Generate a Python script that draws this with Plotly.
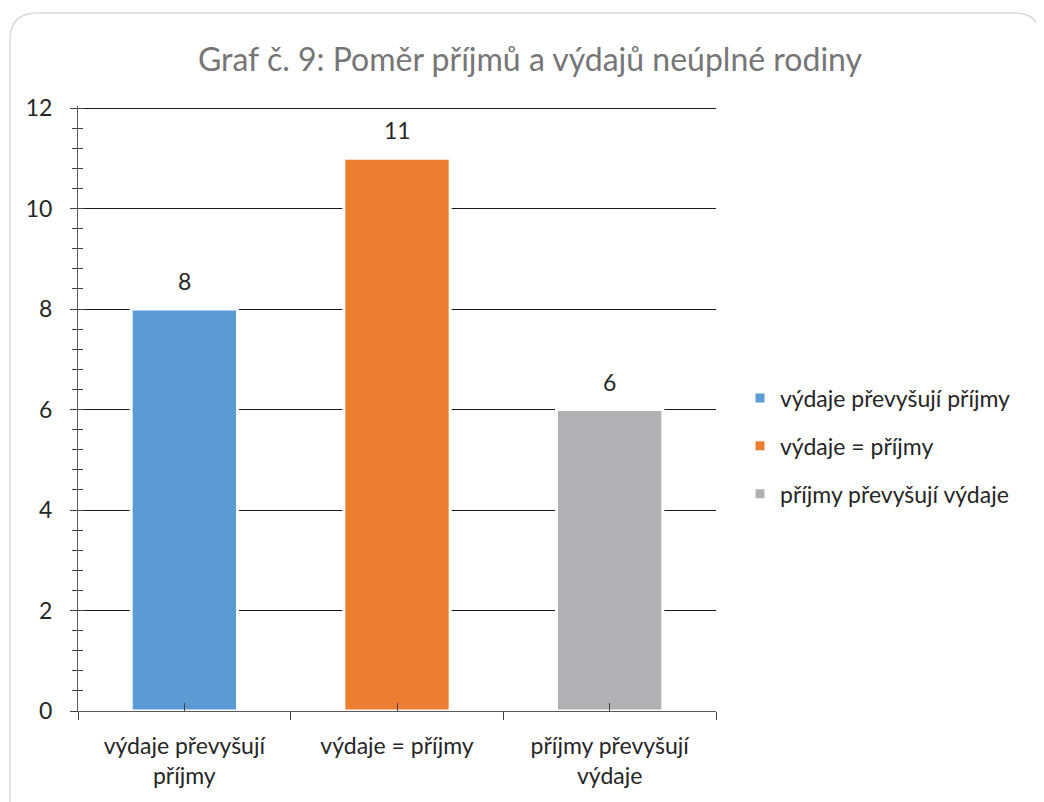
import plotly.graph_objects as go

# data
kategorie = ["výdaje převyšují příjmy", "výdaje = příjmy", "příjmy převyšují výdaje"]
popisky_osy = ["výdaje převyšují<br>příjmy", "výdaje = příjmy", "příjmy převyšují<br>výdaje"]
hodnoty = [8, 11, 6]
barvy = ["#5B9BD5", "#ED7D31", "#B0B1B5"]
osa_y = [0, 2, 4, 6, 8, 10, 12]

# page has an 8px body margin, so everything is shifted back by 8px
OFF = 8
W, H = 1044 - OFF, 802 - OFF
L, R, T, B = 78 - OFF, 1044 - 716, 106 - OFF, 802 - 711
YMAX = 12.04  # a hair above 12 so plotly keeps the top gridline

fig = go.Figure()
for k, lab, v, c in zip(kategorie, popisky_osy, hodnoty, barvy):
    fig.add_trace(go.Bar(
        x=[lab], y=[v], name=k, legendgroup=k,
        marker=dict(color=c, line=dict(color="white", width=3)),
        width=0.5,
    ))
    fig.add_annotation(x=lab, y=v, text=str(v), showarrow=False,
                       yanchor="middle", yshift=28,
                       font=dict(size=23, color="#262626"))

# invisible helper trace so the overlay axes draw the inward tick marks
fig.add_trace(go.Scatter(x=popisky_osy, y=hodnoty, xaxis="x2", yaxis="y2",
                         mode="markers", marker=dict(opacity=0), showlegend=False,
                         hoverinfo="skip"))


def px2x(p):
    return (p - OFF - L) / (W - L - R)


def px2y(p):
    return 1 - (p - OFF - T) / (H - T - B)


fig.update_layout(
    width=W, height=H,
    margin=dict(l=L, r=R, t=T, b=B),
    paper_bgcolor="white", plot_bgcolor="white",
    barmode="overlay",
    font=dict(family="Lato, 'Open Sans', sans-serif", size=23, color="#262626"),
    title=dict(text="Graf č. 9: Poměr příjmů a výdajů neúplné rodiny",
               x=(530 - OFF) / W, xref="container", xanchor="center",
               y=1 - (60 - OFF) / H, yref="container", yanchor="middle",
               font=dict(size=32, color="#767676")),
    xaxis=dict(
        type="category", showgrid=False, zeroline=False,
        showline=True, linecolor="#595959", linewidth=1,
        ticks="outside", ticklen=8, tickcolor="#404040", tickson="boundaries",
        tickfont=dict(size=23, color="#262626"), ticklabelstandoff=14,
        range=[-0.5, 2.5],
    ),
    yaxis=dict(
        range=[0, YMAX], tickvals=osa_y,
        showgrid=True, gridcolor="#1a1a1a", gridwidth=1,
        zeroline=False, showline=True, linecolor="#595959", linewidth=1,
        ticks="outside", ticklen=7, tickcolor="#404040",
        minor=dict(dtick=0.4, ticks="outside", ticklen=5, tickcolor="#404040", showgrid=False),
        tickfont=dict(size=23, color="#262626"), ticklabelstandoff=13,
    ),
    xaxis2=dict(type="category", overlaying="x", matches="x", showgrid=False,
                showline=False, zeroline=False, showticklabels=False,
                ticks="inside", ticklen=8, tickcolor="#404040", side="bottom"),
    yaxis2=dict(overlaying="y", matches="y", showgrid=False, showline=False,
                zeroline=False, showticklabels=False, tickvals=osa_y,
                ticks="inside", ticklen=7, tickcolor="#404040",
                minor=dict(dtick=0.4, ticks="inside", ticklen=5, tickcolor="#404040"),
                side="left"),
    legend=dict(
        x=(740 - OFF) / W, xref="container", xanchor="left",
        y=1 - (446 - OFF) / H, yref="container", yanchor="middle",
        font=dict(size=23, color="#262626"),
        tracegroupgap=15, itemwidth=30,
        bgcolor="rgba(0,0,0,0)",
    ),
    showlegend=True,
    shapes=[dict(
        type="path", xref="paper", yref="paper", layer="below",
        path=(f"M {px2x(10)},{px2y(830)} L {px2x(10)},{px2y(40)} "
              f"Q {px2x(10)},{px2y(13)} {px2x(37)},{px2y(13)} "
              f"L {px2x(1014)},{px2y(13)} "
              f"Q {px2x(1041)},{px2y(13)} {px2x(1041)},{px2y(40)} "
              f"L {px2x(1041)},{px2y(830)}"),
        line=dict(color="#d9d9d9", width=1.5),
    )],
)

fig.write_html("out.html")
